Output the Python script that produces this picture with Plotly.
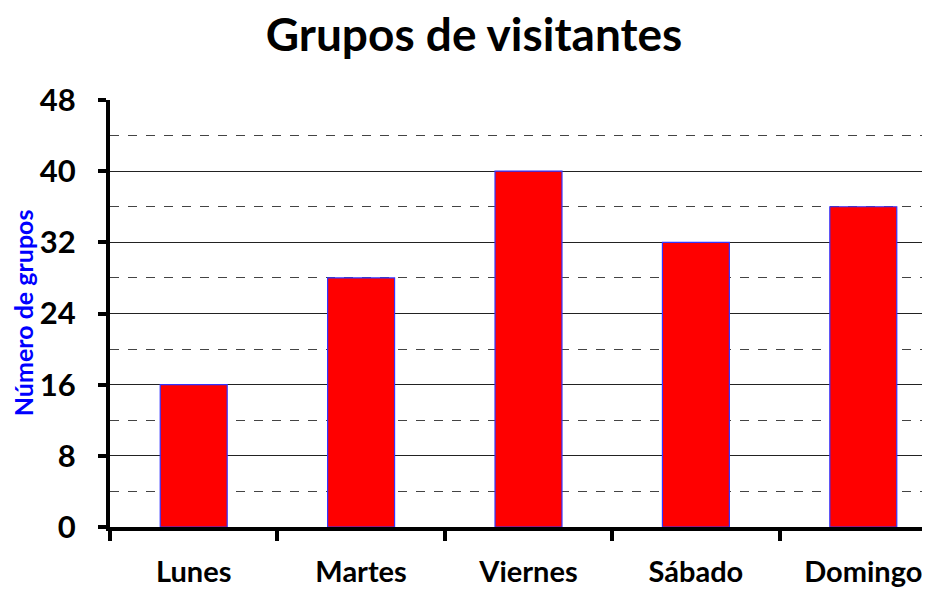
import plotly.graph_objects as go

categories = ["Lunes", "Martes", "Viernes", "Sábado", "Domingo"]
values = [16, 28, 40, 32, 36]
y_ticks = [0, 8, 16, 24, 32, 40, 48]

FONT = "Lato"

fig = go.Figure(go.Bar(
    x=categories, y=values,
    marker=dict(color="#ff0000", line=dict(color="#3333ff", width=1.2)),
    width=0.4,
))

fig.update_layout(
    width=950, height=590,
    paper_bgcolor="white", plot_bgcolor="white",
    margin=dict(l=102, r=11, t=92, b=71, autoexpand=False),
    showlegend=False,
    title=dict(text="<b>Grupos de visitantes</b>", x=0.4905, xanchor="center",
               y=0.955, yanchor="middle",
               font=dict(family=FONT, size=46, color="black")),
    font=dict(family=FONT, color="black"),
)

fig.update_xaxes(
    type="category", automargin=False,
    showline=True, linecolor="black", linewidth=4,
    ticks="outside", tickson="boundaries", ticklen=10, tickwidth=4, tickcolor="black",
    tickfont=dict(family=FONT, size=29, color="black", weight="bold"),
    ticklabelstandoff=16,
    showgrid=False,
)

fig.update_yaxes(
    range=[0, 48], automargin=False,
    tickvals=y_ticks,
    showline=True, linecolor="black", linewidth=4,
    ticks="outside", ticklen=8, tickwidth=4, tickcolor="black",
    tickfont=dict(family=FONT, size=31, color="black", weight="bold"),
    ticklabelstandoff=16,
    showgrid=True, gridcolor="#222222", gridwidth=1.2,
    minor=dict(dtick=4, tick0=0, showgrid=True, griddash="dash",
               gridcolor="#444444", gridwidth=1),
    zeroline=False,
)

fig.add_annotation(
    text="<b>Número de grupos</b>", textangle=-90,
    xref="paper", yref="paper", x=-0.104, y=0.503,
    xanchor="center", yanchor="middle", showarrow=False,
    font=dict(family=FONT, size=25, color="#0000ff"),
)

fig.write_html("out.html")
